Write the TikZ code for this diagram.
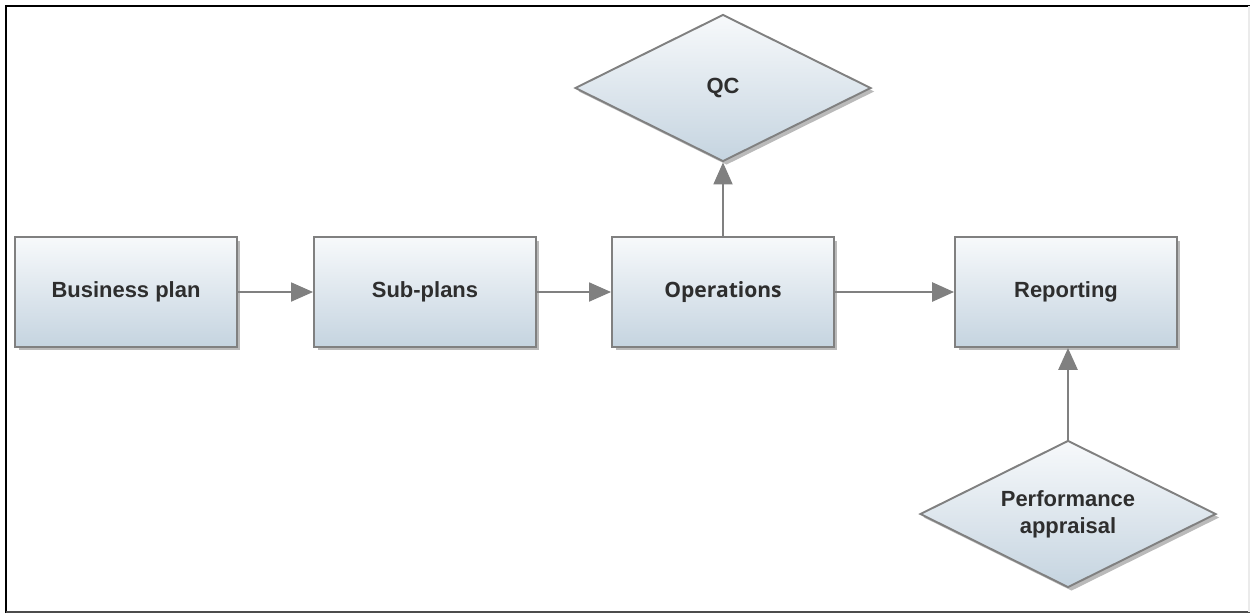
\documentclass[tikz,border=0pt]{standalone}
\usepackage{fontspec}
\setmainfont{Liberation Sans}
\newfontfamily\opsfont{Open Sans}
\usetikzlibrary{arrows.meta,shapes.geometric,positioning,shadows}

\definecolor{edgegray}{HTML}{808080}
\definecolor{txtgray}{HTML}{2E2E2E}
\definecolor{topfill}{HTML}{F7F9FB}
\definecolor{botfill}{HTML}{C5D4E0}

\begin{document}
\begin{tikzpicture}[
    x=0.02cm, y=-0.02cm,
    box/.style={draw=edgegray, line width=1.1pt, minimum width=4.44cm, minimum height=2.2cm,
        align=center, font=\fontsize{12.5}{15.5}\selectfont\bfseries, text=txtgray,
        top color=topfill, bottom color=botfill,
        drop shadow={shadow xshift=0.07cm, shadow yshift=-0.07cm, fill=black!45, opacity=0.6}},
    dec/.style={box, diamond, aspect=2, inner sep=0pt, minimum width=5.92cm, minimum height=2.94cm},
    arr/.style={-{Triangle[length=0.44cm, width=0.38cm]}, line width=1.1pt, draw=edgegray}
]
\useasboundingbox (0,0) rectangle (1250,613);
\fill[white] (0,0) rectangle (1250,613);

% frame
\draw[line width=1.7pt, black] (6,613) -- (6,6) -- (1250,6);
\draw[line width=1.4pt, black!70] (6,612) -- (1250,612);
\draw[line width=0.6pt, black!8] (1249,6) -- (1249,612);

\node[box] (plan) at (126,292) {Business plan};
\node[box] (sub) at (425,292) {Sub-plans};
\node[box, font=\fontsize{12}{15}\selectfont\opsfont\bfseries] (ops) at (723,292) {Operations};
\node[box] (rep) at (1066,292) {Reporting};
\node[dec] (qc) at (723,88) {QC};
\node[dec] (perf) at (1068,514) {Performance\\appraisal};

\draw[arr] (plan) -- (sub);
\draw[arr] (sub) -- (ops);
\draw[arr, line width=1.6pt] (ops) -- (rep);
\draw[arr] (ops) -- (qc);
\draw[arr, line width=1.6pt] (perf.north) -- (perf.north |- rep.south);
\end{tikzpicture}
\end{document}
